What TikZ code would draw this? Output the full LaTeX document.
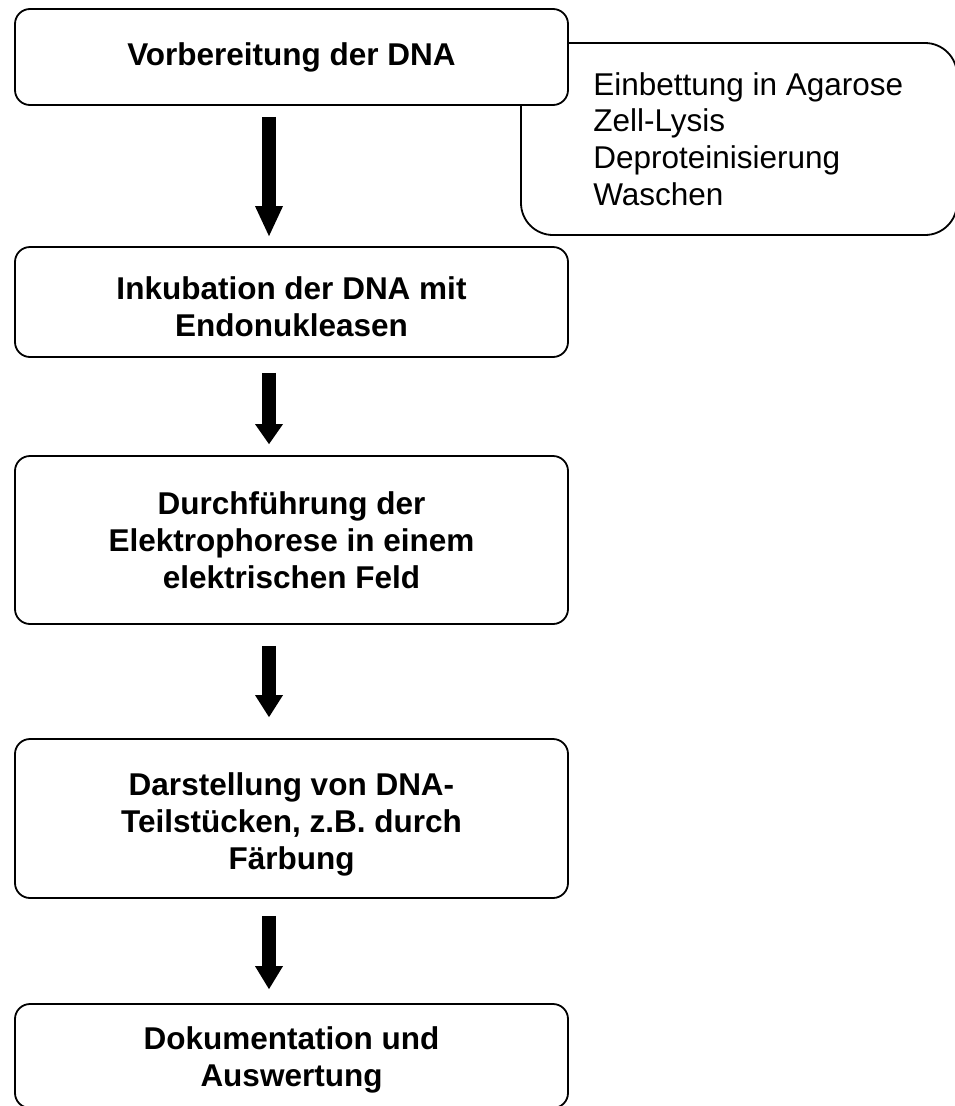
\documentclass[tikz,border=0pt]{standalone}
\usepackage{fontspec}
\setmainfont{Liberation Sans}
\usetikzlibrary{arrows.meta}
\begin{document}
\begin{tikzpicture}[x=1pt,y=-1pt,
  stepbox/.style={draw, line width=1.8pt, rounded corners=15pt, fill=white,
    minimum width=553pt, inner sep=0pt, align=center,
    font=\fontsize{31.5}{37}\selectfont\bfseries},
  sidebox/.style={draw, line width=1.8pt, rounded corners=32pt, fill=white,
    minimum width=436pt, minimum height=192pt, inner sep=0pt},
  sidetext/.style={align=left, inner sep=0pt, font=\fontsize{31.5}{36.7}\selectfont},
  bigarrow/.style={draw=black, line width=14pt}
]
\useasboundingbox (0,0) rectangle (955,1106);
\clip (0,0) rectangle (955,1106);

% side box (behind the first box)
\node[sidebox] (side) at (739,139) {};
\node[sidetext, anchor=west] (sidet) at ([xshift=73pt]side.west)
  {Einbettung in Agarose\\Zell-Lysis\\Deproteinisierung\\Waschen};

% main boxes
\node[stepbox, minimum height=96pt]  (b1) at (291.5,57)   {Vorbereitung der DNA};
\node[stepbox, minimum height=110pt, text height=70pt] (b2) at (291.5,302)  {Inkubation der DNA mit\\Endonukleasen};
\node[stepbox, minimum height=168pt] (b3) at (291.5,540)  {Durchführung der\\Elektrophorese in einem\\elektrischen Feld};
\node[stepbox, minimum height=159pt, text height=109pt] (b4) at (291.5,818.5){Darstellung von DNA-\\Teilstücken, z.B. durch\\Färbung};
\node[stepbox, minimum height=104pt, text height=68pt] (b5) at (291.5,1056) {Dokumentation und\\Auswertung};

% arrows
\draw[bigarrow, shorten <=11pt, shorten >=10pt,
  -{Triangle[width=28pt,length=30pt,line width=0pt]}]
  ([xshift=-22.5pt]b1.south) -- ([xshift=-22.5pt]b2.north);
\draw[bigarrow, shorten <=15pt, shorten >=11pt,
  -{Triangle[width=28pt,length=20pt,line width=0pt]}]
  ([xshift=-22.5pt]b2.south) -- ([xshift=-22.5pt]b3.north);
\draw[bigarrow, shorten <=21pt, shorten >=21pt,
  -{Triangle[width=28pt,length=22pt,line width=0pt]}]
  ([xshift=-22.5pt]b3.south) -- ([xshift=-22.5pt]b4.north);
\draw[bigarrow, shorten <=17pt, shorten >=14pt,
  -{Triangle[width=28pt,length=23pt,line width=0pt]}]
  ([xshift=-22.5pt]b4.south) -- ([xshift=-22.5pt]b5.north);
\end{tikzpicture}
\end{document}
